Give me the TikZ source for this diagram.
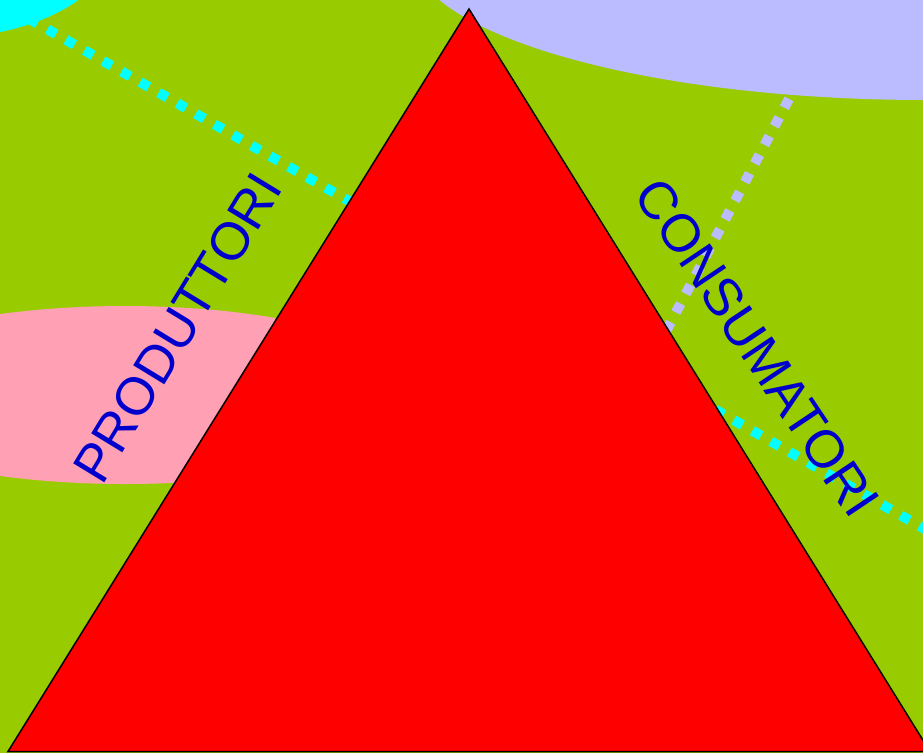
\documentclass[tikz,border=0pt]{standalone}
\usepackage{fontspec}
\setmainfont{Liberation Sans}
\definecolor{bggreen}{RGB}{153,204,0}
\definecolor{cyanfill}{RGB}{0,255,255}
\definecolor{lavfill}{RGB}{187,187,255}
\definecolor{pinkfill}{RGB}{255,160,180}
\definecolor{txtblue}{RGB}{0,0,204}
\tikzset{
  dotline/.style={line width=10pt, dash pattern=on 10pt off 11.35pt},
  lavline/.style={line width=10pt, dash pattern=on 10pt off 11.06pt},
  lbl/.style={text=txtblue, inner sep=0pt, anchor=base, font=\fontsize{53}{60}\selectfont}
}
\begin{document}
\begin{tikzpicture}[x=1pt,y=-1pt]
\useasboundingbox (0,0) rectangle (923,753);
\clip (0,0) rectangle (923,753);
\fill[bggreen] (0,0) rectangle (923,753);
\fill[cyanfill] (-60,-60) ellipse [x radius=175pt, y radius=98pt];
\fill[lavfill] (926,-50) ellipse [x radius=516pt, y radius=150pt];
\fill[pinkfill] (125,395) ellipse [x radius=300pt, y radius=89pt];
\coordinate (c1) at (-8.3,-2.5);
\coordinate (c2) at (1000,571.8);
\draw[dotline, cyanfill] (c1) -- (c2);
\coordinate (l1) at (828.4,24.4);
\coordinate (l2) at (602,452);
\draw[lavline, lavfill] (l1) -- (l2);
\coordinate (tA) at (469,9);
\coordinate (tB) at (8,751.5);
\coordinate (tC) at (930,751.5);
\filldraw[fill=red, draw=black, line width=1.5pt, line join=miter] (tA) -- (tB) -- (tC) -- cycle;
\node[lbl, rotate=58.6] (prod) at (193.3,337.1) {PRODUTTORI};
\node[lbl, rotate=-56.2] (cons) at (742,358) {CONSUMATORI};
\end{tikzpicture}
\end{document}
